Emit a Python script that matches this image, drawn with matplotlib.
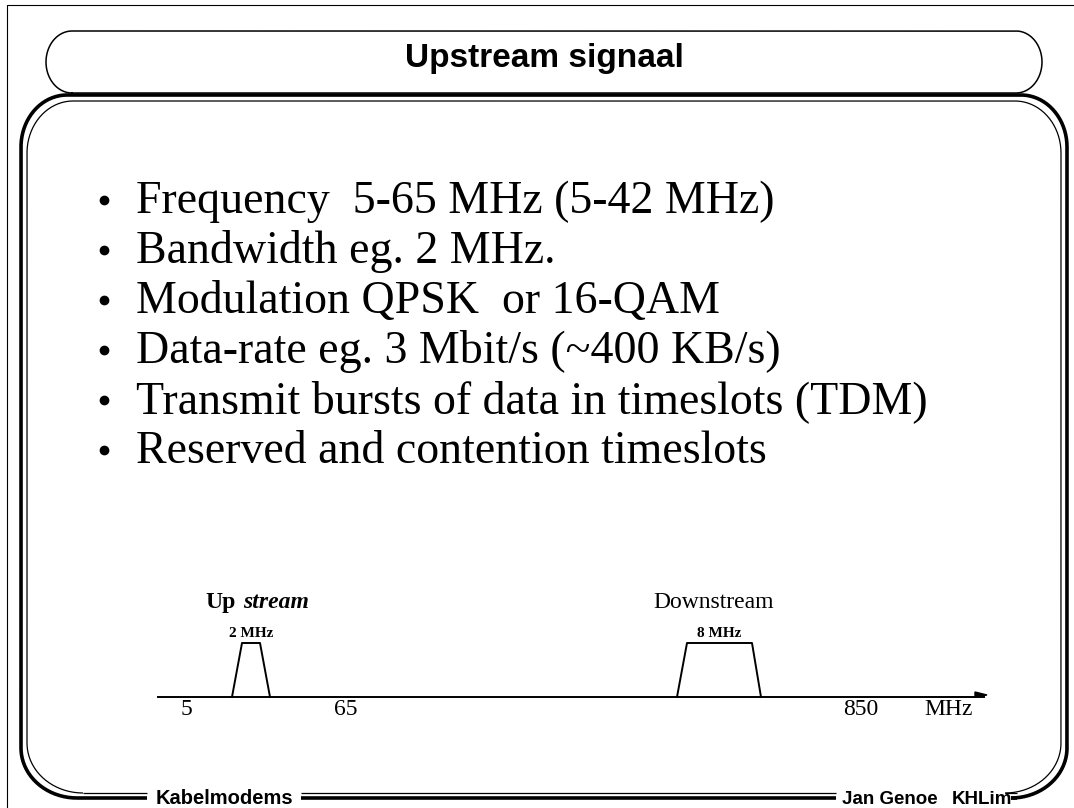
import matplotlib.pyplot as plt
import numpy as np

# slide text
title = "Upstream signaal"
bullets = [
    "Frequency  5-65 MHz (5-42 MHz)",
    "Bandwidth eg. 2 MHz.",
    "Modulation QPSK  or 16-QAM",
    "Data-rate eg. 3 Mbit/s (~400 KB/s)",
    "Transmit bursts of data in timeslots (TDM)",
    "Reserved and contention timeslots",
]
footer_left = "Kabelmodems"
footer_right = ["Jan Genoe", "KHLim"]

# spectrum sketch (schematic x positions of the frequency axis)
tick_labels = ["5", "65", "850", "MHz"]
tick_x = [186, 346, 861, 949]
# bands: base left, top left, top right, base right
up_band = [232, 242, 260, 270]
down_band = [677, 687, 752, 761]
band_labels = ["2 MHz", "8 MHz"]

sans = ['Liberation Sans', 'DejaVu Sans']
serif = ['Liberation Serif', 'DejaVu Serif']


def corner(cx, cy, rx, ry, a0, a1):
    t = np.radians(np.linspace(a0, a1, 40))
    return cx + rx * np.cos(t), cy + ry * np.sin(t)


def box_outline(x0, y0, x1, y1, rt, rb):
    # open outline: bottom-left corner, up, over the top, down, bottom-right corner
    parts = [
        corner(x0 + rb[0], y1 - rb[1], rb[0], rb[1], 90, 180),
        corner(x0 + rt[0], y0 + rt[1], rt[0], rt[1], 180, 270),
        corner(x1 - rt[0], y0 + rt[1], rt[0], rt[1], 270, 360),
        corner(x1 - rb[0], y1 - rb[1], rb[0], rb[1], 0, 90),
    ]
    xs = np.concatenate([p[0] for p in parts])
    ys = np.concatenate([p[1] for p in parts])
    return xs, ys


fig = plt.figure(figsize=(10.74, 8.08), dpi=100)
ax = fig.add_axes([0, 0, 1, 1])
ax.set_xlim(0, 1074)
ax.set_ylim(808, 0)
ax.axis('off')

# page frame
ax.plot([7, 7, 1074], [808, 5, 5], color='black', lw=0.8)

# title box (stadium shape)
xs, ys = box_outline(46, 31, 1042, 93, (26, 31), (26, 31))
ax.plot(np.append(xs, xs[0]), np.append(ys, ys[0]), color='black', lw=1.1)
ax.text(544, 67, title, family=sans, fontweight='bold', fontsize=24,
        ha='center', va='baseline')

# main box, double line
gaps = [(147, 301), (836, 1017)]
for x0, y0, x1, y1, lw in [(21, 95, 1067, 798, 2.6), (27, 101, 1061, 793, 0.9)]:
    xs, ys = box_outline(x0, y0, x1, y1, (46, 52), (56, 50))
    ax.plot(xs, ys, color='black', lw=lw, solid_capstyle='butt')
    xl = x0 + 56
    xr = x1 - 56
    ax.plot([xl, gaps[0][0]], [y1, y1], color='black', lw=lw, solid_capstyle='butt')
    ax.plot([gaps[0][1], gaps[1][0]], [y1, y1], color='black', lw=lw, solid_capstyle='butt')
    ax.plot([gaps[1][1], xr], [y1, y1], color='black', lw=lw, solid_capstyle='butt')

ax.text(156, 804, footer_left, family=sans, fontweight='bold', fontsize=14.5,
        ha='left', va='baseline')
ax.text(938, 804, footer_right[0], family=sans, fontweight='bold', fontsize=13.5,
        ha='right', va='baseline')
ax.text(1012, 804, footer_right[1], family=sans, fontweight='bold', fontsize=13.5,
        ha='right', va='baseline')

# bullet list
for i, line in enumerate(bullets):
    y = 213 + i * 50
    ax.plot(104, y - 13, 'o', color='black', ms=6)
    ax.text(136, y, line, family=serif, fontsize=33, ha='left', va='baseline')

# frequency axis
ax.plot([158, 984], [697, 697], color='black', lw=1.4)
ax.fill([975, 987, 975], [692, 695, 697], color='black')
for x, lab in zip(tick_x, tick_labels):
    ax.text(x, 715, lab, family=serif, fontsize=17, ha='center', va='baseline')

for band, lab in zip([up_band, down_band], band_labels):
    ax.plot(band, [697, 643, 643, 697], color='black', lw=1.4)
    ax.text((band[1] + band[2]) / 2, 637, lab, family=serif, fontsize=11,
            fontweight='bold', ha='center', va='baseline')

ax.text(205, 608, "Up", family=serif, fontweight='bold', fontsize=17,
        ha='left', va='baseline')
ax.text(243, 608, "stream", family=serif, fontweight='bold', style='italic',
        fontsize=17, ha='left', va='baseline')
ax.text(714, 608, "Downstream", family=serif, fontsize=17, ha='center', va='baseline')

fig.savefig('out.png', dpi=100)
